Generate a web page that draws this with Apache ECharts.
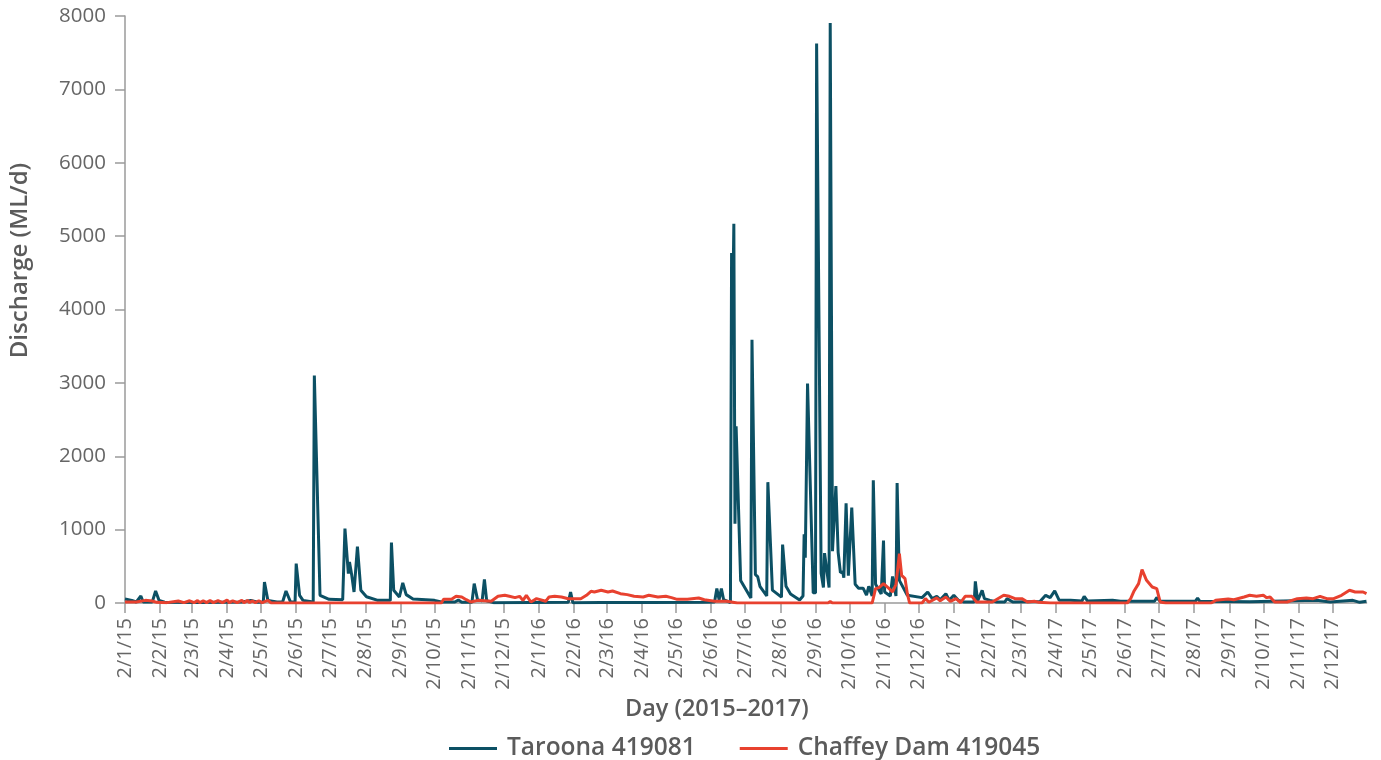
<!DOCTYPE html>
<html>
<head>
<meta charset="utf-8">
<script src="https://cdn.jsdelivr.net/npm/echarts@6/dist/echarts.min.js"></script>
<style>
html,body{margin:0;padding:0;background:#fff;}
#chart{width:1381px;height:760px;}
</style>
</head>
<body>
<div id="chart"></div>
<script>
// Daily categories: 2 Jan 2015 .. 1 Jan 2018 (labels d/m/yy)
const startDate = Date.UTC(2015, 0, 2);
const endDate = Date.UTC(2018, 0, 1);
const categories = [];
for (let t = startDate; t <= endDate; t += 86400000) {
  const d = new Date(t);
  categories.push(d.getUTCDate() + '/' + (d.getUTCMonth() + 1) + '/' + String(d.getUTCFullYear()).slice(2));
}

const yTicks = [0, 1000, 2000, 3000, 4000, 5000, 6000, 7000, 8000];

// Taroona 419081 discharge (ML/d)
const taroona = [
  ['2/1/15',55],['8/1/15',36],['12/1/15',14],['16/1/15',95],['18/1/15',14],['26/1/15',12],
  ['29/1/15',164],['1/2/15',36],['6/2/15',10],['8/3/15',8],['15/4/15',15],['23/4/15',36],
  ['29/4/15',10],['4/5/15',15],['5/5/15',286],['8/5/15',36],['16/5/15',14],['21/5/15',14],['24/5/15',164],
  ['28/5/15',14],['1/6/15',14],['2/6/15',537],['5/6/15',105],['8/6/15',36],['17/6/15',14],['18/6/15',3100],
  ['23/6/15',105],['1/7/15',50],['13/7/15',45],['15/7/15',1014],['18/7/15',400],['19/7/15',559],
  ['21/7/15',377],['23/7/15',150],['26/7/15',770],['29/7/15',175],['3/8/15',85],['13/8/15',36],
  ['24/8/15',36],['25/8/15',825],['27/8/15',173],['1/9/15',82],['4/9/15',273],['7/9/15',114],
  ['13/9/15',55],['2/10/15',36],['8/10/15',14],['20/10/15',14],['23/10/15',40],['26/10/15',10],
  ['4/11/15',10],['6/11/15',264],['9/11/15',40],['13/11/15',30],['15/11/15',323],['17/11/15',30],['23/11/15',5],
  ['28/1/16',10],['30/1/16',150],['1/2/16',5],['26/2/16',8],['10/4/16',8],['24/5/16',10],
  ['5/6/16',14],['7/6/16',196],['9/6/16',45],['11/6/16',196],['13/6/16',45],['19/6/16',5],
  ['20/6/16',4771],['21/6/16',3974],['22/6/16',5170],['23/6/16',1079],['24/6/16',2407],['28/6/16',308],
  ['7/7/16',69],['8/7/16',3586],['11/7/16',388],['13/7/16',361],['15/7/16',228],['21/7/16',96],
  ['22/7/16',1647],['26/7/16',175],['3/8/16',80],['4/8/16',797],['7/8/16',228],['11/8/16',122],
  ['19/8/16',42],['22/8/16',96],['23/8/16',935],['24/8/16',616],['26/8/16',2991],['31/8/16',138],
  ['2/9/16',138],['3/9/16',7624],['7/9/16',404],['9/9/16',212],['10/9/16',680],['14/9/16',212],['15/9/16',7905],
  ['17/9/16',707],['20/9/16',1594],['22/9/16',690],['24/9/16',414],['26/9/16',425],['27/9/16',345],
  ['29/9/16',1360],['1/10/16',372],['4/10/16',1302],['7/10/16',255],['10/10/16',202],['14/10/16',202],
  ['17/10/16',106],['19/10/16',228],['22/10/16',96],['23/10/16',1674],['25/10/16',255],['30/10/16',122],
  ['1/11/16',850],['2/11/16',149],['7/11/16',96],['9/11/16',361],['12/11/16',96],['13/11/16',1636],
  ['15/11/16',308],['22/11/16',105],['5/12/16',73],['10/12/16',150],['14/12/16',59],['18/12/16',91],
  ['21/12/16',45],['26/12/16',127],['29/12/16',36],['2/1/17',105],['6/1/17',36],['11/1/17',14],
  ['20/1/17',14],['21/1/17',295],['23/1/17',27],['27/1/17',173],['29/1/17',59],['3/2/17',36],
  ['9/2/17',14],['16/2/17',14],['18/2/17',59],['23/2/17',14],['19/3/17',20],['24/3/17',105],['28/3/17',73],
  ['1/4/17',164],['5/4/17',36],['15/4/17',36],['25/4/17',27],['27/4/17',91],['30/4/17',27],
  ['22/5/17',36],['29/5/17',23],['28/6/17',23],['30/6/17',73],['3/7/17',23],['3/8/17',23],['5/8/17',68],['7/8/17',23],
  ['20/9/17',18],['18/11/17',36],['30/11/17',14],['20/12/17',36],['26/12/17',9],['1/1/18',23]
];

// Chaffey Dam 419045 discharge (ML/d)
const chaffey = [
  ['2/1/15',14],['12/1/15',14],['20/1/15',36],['26/1/15',27],['30/1/15',9],['8/2/15',5],
  ['18/2/15',27],['23/2/15',5],['28/2/15',30],['4/3/15',5],['7/3/15',32],['9/3/15',5],
  ['12/3/15',30],['15/3/15',5],['18/3/15',35],['21/3/15',5],['25/3/15',32],['29/3/15',5],
  ['2/4/15',40],['4/4/15',5],['7/4/15',30],['11/4/15',5],['15/4/15',38],['17/4/15',5],
  ['20/4/15',35],['22/4/15',5],['24/4/15',30],['27/4/15',5],['30/4/15',30],['3/5/15',5],
  ['8/5/15',36],['11/5/15',0],['8/10/15',0],['10/10/15',50],['17/10/15',50],['21/10/15',91],
  ['26/10/15',82],['30/10/15',45],['3/11/15',14],['9/11/15',36],['21/11/15',23],['27/11/15',91],
  ['3/12/15',105],['7/12/15',91],['12/12/15',73],['16/12/15',91],['19/12/15',36],['22/12/15',105],
  ['26/12/15',14],['31/12/15',59],['8/1/16',23],['11/1/16',82],['16/1/16',91],['22/1/16',82],
  ['28/1/16',59],['2/2/16',59],['8/2/16',59],['13/2/16',105],['17/2/16',159],['20/2/16',150],
  ['26/2/16',173],['3/3/16',150],['7/3/16',164],['14/3/16',127],['20/3/16',114],['26/3/16',91],
  ['3/4/16',82],['8/4/16',105],['16/4/16',82],['23/4/16',91],['28/4/16',73],['3/5/16',50],
  ['12/5/16',50],['22/5/16',68],['27/5/16',45],['5/6/16',23],['16/6/16',23],['25/6/16',0],
  ['13/9/16',0],['15/9/16',20],['17/9/16',0],['22/10/16',0],['25/10/16',196],['28/10/16',210],
  ['1/11/16',264],['6/11/16',196],['9/11/16',150],['12/11/16',255],['15/11/16',673],['17/11/16',377],
  ['20/11/16',332],['22/11/16',128],['24/11/16',0],['5/12/16',0],['8/12/16',60],['11/12/16',10],
  ['18/12/16',70],['21/12/16',30],['26/12/16',82],['30/12/16',23],['4/1/17',60],['8/1/17',5],
  ['12/1/17',91],['18/1/17',91],['22/1/17',14],['5/2/17',14],['15/2/17',105],['20/2/17',91],
  ['25/2/17',59],['3/3/17',59],['8/3/17',14],['14/3/17',23],['18/3/17',9],['28/3/17',0],
  ['4/6/17',0],['7/6/17',59],['10/6/17',164],['14/6/17',264],['17/6/17',455],['21/6/17',309],
  ['26/6/17',218],['30/6/17',196],['3/7/17',14],['8/7/17',0],['17/8/17',0],['21/8/17',36],
  ['1/9/17',55],['6/9/17',45],['15/9/17',82],['20/9/17',105],['26/9/17',91],['2/10/17',105],
  ['5/10/17',73],['8/10/17',82],['12/10/17',14],['23/10/17',14],['1/11/17',59],['9/11/17',68],
  ['15/11/17',59],['21/11/17',91],['27/11/17',59],['3/12/17',59],['10/12/17',105],['17/12/17',173],
  ['22/12/17',150],['29/12/17',150],['1/1/18',127]
];

const catIndex = {};
categories.forEach((c, i) => { catIndex[c] = i; });
const toSeries = arr => arr.map(p => [catIndex[p[0]], p[1]]);
const isMonthTick = (idx, val) => String(val).split('/')[0] === '2';

const FONT = '"Open Sans", "Noto Sans", sans-serif';
const chart = echarts.init(document.getElementById('chart'), null, {renderer: 'canvas'});
chart.setOption({
  animation: false,
  backgroundColor: '#ffffff',
  grid: {left: 123.5, right: 14.5, top: 16, bottom: 157, containLabel: false},
  legend: {
    left: 444, top: 731,
    icon: 'rect', itemWidth: 48, itemHeight: 3, itemGap: 44,
    textStyle: {fontFamily: FONT, fontSize: 24.5, fontWeight: 600, color: '#5b5b5b', padding: [0, 0, 0, 5]},
    data: ['Taroona 419081', 'Chaffey Dam 419045']
  },
  xAxis: {
    type: 'category',
    data: categories,
    boundaryGap: false,
    name: 'Day (2015\u20132017)',
    nameLocation: 'middle',
    nameGap: 92,
    nameTextStyle: {fontFamily: FONT, fontSize: 23.5, fontWeight: 600, color: '#5b5b5b', padding: [0, 58, 0, 0]},
    axisLine: {show: true, lineStyle: {color: '#9a9a9a', width: 1.5}},
    axisTick: {show: true, interval: isMonthTick, length: 10, lineStyle: {color: '#9a9a9a', width: 1.5}},
    axisLabel: {interval: isMonthTick, rotate: 90, margin: 15, fontFamily: FONT, fontSize: 20, color: '#666666'},
    splitLine: {show: false}
  },
  yAxis: {
    type: 'value',
    min: yTicks[0], max: yTicks[yTicks.length - 1], interval: 1000,
    name: 'Discharge (ML/d)',
    nameLocation: 'middle',
    nameGap: 93,
    nameRotate: 90,
    nameTextStyle: {fontFamily: FONT, fontSize: 24, fontWeight: 600, color: '#5b5b5b', padding: [0, 0, 0, 98]},
    axisLine: {show: true, lineStyle: {color: '#9a9a9a', width: 1.5}},
    axisTick: {show: true, length: 10, lineStyle: {color: '#9a9a9a', width: 1.5}},
    axisLabel: {margin: 19, fontFamily: FONT, fontSize: 20.5, color: '#666666', formatter: v => String(v)},
    splitLine: {show: false}
  },
  series: [
    {
      name: 'Taroona 419081', type: 'line', data: toSeries(taroona),
      showSymbol: false, symbol: 'none',
      lineStyle: {color: '#0c5064', width: 3},
      itemStyle: {color: '#0c5064'}
    },
    {
      name: 'Chaffey Dam 419045', type: 'line', data: toSeries(chaffey),
      showSymbol: false, symbol: 'none',
      lineStyle: {color: '#e8412f', width: 3},
      itemStyle: {color: '#e8412f'}
    }
  ]
});
</script>
</body>
</html>
